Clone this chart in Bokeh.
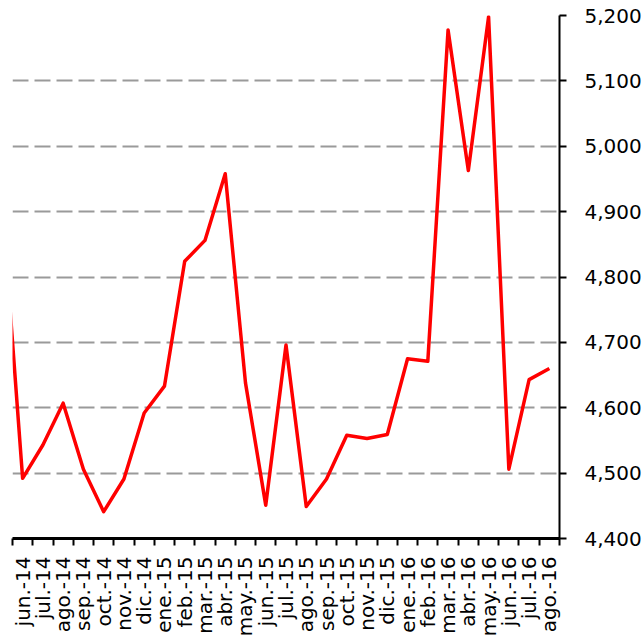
import numpy as np
from bokeh.plotting import figure
from bokeh.models import FixedTicker, Range1d, NumeralTickFormatter
from bokeh.embed import file_html
from bokeh.resources import INLINE

# Categories (first one lies just left of the visible area, as in the original)
months = ["may.-14",
          "jun.-14", "jul.-14", "ago.-14", "sep.-14", "oct.-14", "nov.-14", "dic.-14",
          "ene.-15", "feb.-15", "mar.-15", "abr.-15", "may.-15", "jun.-15", "jul.-15",
          "ago.-15", "sep.-15", "oct.-15", "nov.-15", "dic.-15",
          "ene.-16", "feb.-16", "mar.-16", "abr.-16", "may.-16", "jun.-16", "jul.-16",
          "ago.-16"]
values = [4910,
          4492, 4543, 4607, 4506, 4441, 4491, 4592,
          4633, 4824, 4856, 4958, 4638, 4451, 4696,
          4449, 4491, 4558, 4553, 4559,
          4675, 4671, 5178, 4963, 5198, 4506, 4643,
          4660]
y_ticks = [4400, 4500, 4600, 4700, 4800, 4900, 5000, 5100, 5200]

n = len(months)
x = np.arange(n) - 0.5
visible = months[1:]

FONT = "DejaVu Sans"

p = figure(width=644, height=639, output_backend="svg", toolbar_location=None,
           x_range=Range1d(0, len(visible)), y_range=Range1d(y_ticks[0], y_ticks[-1]),
           y_axis_location="right", min_border_left=12, min_border_top=15,
           min_border_right=85, min_border_bottom=0)
p.outline_line_color = None
p.background_fill_color = "white"
p.border_fill_color = "white"

p.xgrid.visible = False
p.ygrid.grid_line_color = "#9a9a9a"
p.ygrid.grid_line_width = 2
p.ygrid.grid_line_dash = "16 6"

p.line(x, values, line_color="#ff0000", line_width=3.5, line_join="round")

# x axis
xa = p.xaxis[0]
xa.ticker = FixedTicker(ticks=[i + 0.5 for i in range(len(visible))],
                        minor_ticks=list(range(len(visible) + 1)))
xa.major_label_overrides = {i + 0.5: lab for i, lab in enumerate(visible)}
xa.major_tick_out = 0
xa.major_tick_in = 0
xa.minor_tick_out = 7
xa.minor_tick_in = 0
xa.minor_tick_line_color = "black"
xa.minor_tick_line_width = 2
xa.axis_line_color = "black"
xa.axis_line_width = 3
xa.major_label_orientation = np.pi / 2
xa.major_label_standoff = 11
xa.major_label_text_font = FONT
xa.major_label_text_font_size = "20px"
xa.major_label_text_color = "black"

# y axis (right)
ya = p.yaxis[0]
ya.ticker = FixedTicker(ticks=y_ticks)
ya.formatter = NumeralTickFormatter(format="0,0")
ya.major_tick_out = 7
ya.major_tick_in = 0
ya.minor_tick_out = 0
ya.minor_tick_in = 0
ya.major_tick_line_color = "black"
ya.major_tick_line_width = 2
ya.axis_line_color = "black"
ya.axis_line_width = 2
ya.major_label_standoff = 18
ya.major_label_text_font = FONT
ya.major_label_text_font_size = "20px"
ya.major_label_text_color = "black"

open("out.html", "w").write(file_html(p, INLINE))
